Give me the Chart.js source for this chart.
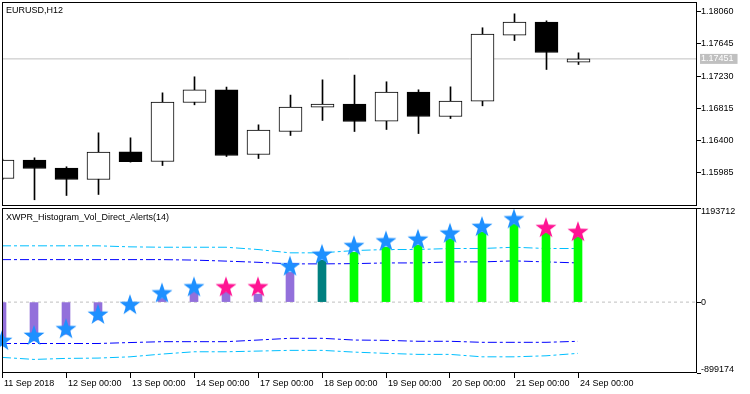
<!DOCTYPE html>
<html><head><meta charset="utf-8">
<script src="https://cdn.jsdelivr.net/npm/chart.js@4/dist/chart.umd.min.js"></script>
<style>
html,body{margin:0;padding:0;background:#fff;}
#wrap{position:relative;width:750px;height:394px;background:#fff;overflow:hidden;}
canvas{position:absolute;left:0;}
#top{top:0}
#bot{top:206px}
</style></head><body>
<div id="wrap"><canvas id="top" width="750" height="206"></canvas><canvas id="bot" width="750" height="188"></canvas></div>
<script>
// ---------- data ----------
const symbolLabel = 'EURUSD,H12';
const indicatorLabel = 'XWPR_Histogram_Vol_Direct_Alerts(14)';

const opens  = [1.15914,1.16151,1.16048,1.15901,1.16257,1.16133,1.16891,1.17054,1.16223,1.16518,1.16832,1.16870,1.16652,1.17024,1.16711,1.16909,1.17757,1.17924,1.17410];
const highs  = [1.16165,1.16180,1.16065,1.16501,1.16437,1.17015,1.17221,1.17089,1.16604,1.16986,1.17182,1.17243,1.17157,1.17054,1.17092,1.17851,1.18030,1.17940,1.17529];
const lows   = [1.15900,1.15641,1.15696,1.15709,1.16125,1.16081,1.16861,1.16197,1.16171,1.16467,1.16660,1.16518,1.16544,1.16492,1.16685,1.16848,1.17687,1.17315,1.17379];
const closes = [1.16151,1.16043,1.15901,1.16253,1.16129,1.16896,1.17054,1.16210,1.16536,1.16832,1.16870,1.16647,1.17024,1.16711,1.16909,1.17770,1.17924,1.17533,1.17451];

const priceTicks = [1.15985,1.16400,1.16815,1.17230,1.17645,1.18060];
const priceMin = 1.1556096, priceMax = 1.1818206;

const timeTickIndex  = [0,2,4,6,8,10,12,14,16,18];
const timeTickLabels = ['11 Sep 2018','12 Sep 00:00','13 Sep 00:00','14 Sep 00:00','17 Sep 00:00','18 Sep 00:00','19 Sep 00:00','20 Sep 00:00','21 Sep 00:00','24 Sep 00:00'];

const histValues     = [-557000,-493000,-408000,-226000,-70000,46000,131000,127000,102000,377000,530000,632000,696000,722000,803000,887000,986000,880000,829000];
const histColorIndex = [0,0,0,0,0,0,0,0,0,0,1,2,2,2,2,2,2,2,2];
const signalValues   = [-481000,-417000,-332000,-149000,-26000,122000,199000,199000,199000,463000,612000,722000,782000,803000,880000,964000,1062000,951000,900000];
const signalColorIndex = [0,0,0,0,0,0,0,1,1,0,0,0,0,0,0,0,0,1,1];
const upperOuter = [714000,714000,714000,714000,701000,696000,696000,696000,667000,625000,625000,654000,667000,667000,680000,680000,696000,680000,680000];
const upperInner = [539000,539000,539000,539000,539000,539000,533000,520000,505000,485000,485000,488000,497000,497000,510000,510000,523000,510000,497000];
const lowerInner = [-525000,-525000,-525000,-525000,-513000,-502000,-502000,-502000,-481000,-459000,-459000,-481000,-485000,-497000,-497000,-510000,-510000,-510000,-497000];
const lowerOuter = [-701000,-727000,-714000,-710000,-694000,-659000,-630000,-630000,-621000,-612000,-612000,-634000,-650000,-663000,-663000,-694000,-694000,-681000,-650000];
const volMin = -899174, volMax = 1193712;

// ---------- styles ----------
const FONT = 'Liberation Sans';
Chart.defaults.font.family = FONT;
Chart.defaults.font.size = 9;
Chart.defaults.color = '#000';
const histPalette = ['#9370DB', '#008080', '#00FF00'];
const signalPalette = ['#1E90FF', '#FF1493'];
const SLOT = 32;
const AREA_W = 695;

function makeStar(color) {
  const c = document.createElement('canvas');
  c.width = 24; c.height = 24;
  const g = c.getContext('2d');
  const R = 11, r = R * 0.4;
  const cx = 12, cy = 12 + R * (1 - Math.cos(Math.PI / 5)) / 2;
  g.beginPath();
  for (let k = 0; k < 10; k++) {
    const a = -Math.PI / 2 + k * Math.PI / 5;
    const rr = k % 2 ? r : R;
    g.lineTo(cx + rr * Math.cos(a), cy + rr * Math.sin(a));
  }
  g.closePath();
  g.fillStyle = color;
  g.fill();
  return c;
}
const starImgs = signalPalette.map(makeStar);

const framePlugin = {
  id: 'frame',
  afterDraw(chart, args, opts) {
    const a = chart.chartArea, ctx = chart.ctx;
    ctx.save();
    ctx.strokeStyle = '#000';
    ctx.lineWidth = 1;
    ctx.strokeRect(Math.round(a.left) + 0.5, Math.round(a.top) + 0.5,
                   Math.round(a.right - a.left) - 1, Math.round(a.bottom - a.top) - 1);
    ctx.fillStyle = '#000';
    ctx.font = '9px "' + FONT + '"';
    ctx.textBaseline = 'alphabetic';
    ctx.textAlign = 'left';
    ctx.fillText(opts.text, opts.x, opts.y);
    ctx.restore();
  }
};

const noPadY = s => { s.width = 53; s.paddingTop = 0; s.paddingBottom = 0; };
const N = closes.length;
const idx = closes.map((_, i) => i);
const lastClose = closes[N - 1];

// ---------- price pane ----------
const topMin = -0.5 / SLOT, topMax = topMin + AREA_W / SLOT;
const isLast = c => c.tick && Math.abs(c.tick.value - lastClose) < 1e-9;
new Chart(document.getElementById('top'), {
  type: 'bar',
  data: {
    datasets: [
      {
        type: 'bar', order: 1, grouped: false,
        data: idx.map(i => ({x: i, y: [opens[i], closes[i]]})),
        backgroundColor: idx.map(i => closes[i] >= opens[i] ? '#FFFFFF' : '#000000'),
        borderColor: '#000', borderWidth: 1, borderSkipped: false, barThickness: 23
      },
      {
        type: 'bar', order: 2, grouped: false,
        data: idx.map(i => ({x: i, y: [lows[i], highs[i]]})),
        backgroundColor: '#000', borderWidth: 0, barThickness: 1
      },
      {
        type: 'line', order: 3,
        data: [{x: topMin, y: lastClose}, {x: topMax, y: lastClose}],
        borderColor: '#C0C0C0', borderWidth: 1, pointRadius: 0
      }
    ]
  },
  options: {
    responsive: false, animation: false, events: [],
    layout: {autoPadding: false, padding: {left: 2, top: 2, right: 0, bottom: 0}},
    plugins: {legend: {display: false}, tooltip: {enabled: false},
      frame: {text: symbolLabel, x: 6, y: 13}},
    scales: {
      x: {type: 'linear', display: false, offset: false, min: topMin, max: topMax,
          grid: {offset: false}},
      y: {
        type: 'linear', position: 'right', min: priceMin, max: priceMax,
        afterFit: noPadY,
        afterBuildTicks: s => { s.ticks = [...priceTicks, lastClose].sort((a, b) => a - b).map(v => ({value: v})); },
        border: {display: false},
        grid: {drawOnChartArea: false, drawTicks: true, tickLength: 4,
               tickColor: c => isLast(c) ? 'rgba(0,0,0,0)' : '#000'},
        ticks: {
          autoSkip: false, padding: 0,
          font: {family: FONT, size: 9, lineHeight: '10px'},
          color: c => isLast(c) ? '#FFFFFF' : '#000',
          showLabelBackdrop: c => isLast(c),
          backdropColor: '#C0C0C0',
          backdropPadding: {top: 0, bottom: 0, left: 1, right: 4},
          callback: v => Number(v).toFixed(5)
        }
      }
    }
  },
  plugins: [framePlugin]
});

// ---------- indicator pane ----------
const botMin = 0, botMax = AREA_W / SLOT;
const levelLine = (arr, color, order) => ({
  type: 'line', order,
  data: idx.map(i => ({x: i, y: arr[i]})),
  borderColor: color, borderWidth: 1, borderDash: [9, 3, 3, 3],
  pointRadius: 0, tension: 0
});
new Chart(document.getElementById('bot'), {
  type: 'bar',
  data: {
    datasets: [
      {
        type: 'line', order: 0, showLine: false, clip: false,
        data: idx.map(i => ({x: i, y: signalValues[i]})),
        pointStyle: c => starImgs[signalColorIndex[c.dataIndex]],
        pointRadius: 5
      },
      {
        type: 'bar', order: 1,
        data: idx.map(i => ({x: i, y: histValues[i]})),
        backgroundColor: c => histPalette[histColorIndex[c.dataIndex]],
        borderWidth: 0, barThickness: 8
      },
      levelLine(upperOuter, '#00BFFF', 2),
      levelLine(upperInner, '#0000FF', 2),
      levelLine(lowerInner, '#0000FF', 2),
      levelLine(lowerOuter, '#00BFFF', 2),
      {
        type: 'line', order: 3,
        data: [{x: botMin, y: 0}, {x: botMax, y: 0}],
        borderColor: '#C0C0C0', borderWidth: 1, borderDash: [3, 3], pointRadius: 0
      }
    ]
  },
  options: {
    responsive: false, animation: false, events: [],
    layout: {autoPadding: false, padding: {left: 2, top: 2, right: 0, bottom: 0}},
    plugins: {legend: {display: false}, tooltip: {enabled: false},
      frame: {text: indicatorLabel, x: 6, y: 14}},
    scales: {
      x: {
        type: 'linear', offset: false, min: botMin, max: botMax,
        afterFit: s => { s.height = 21; s.paddingLeft = 0; s.paddingRight = 0; },
        afterBuildTicks: s => { s.ticks = timeTickIndex.map(v => ({value: v})); },
        border: {display: false},
        grid: {offset: false, drawOnChartArea: false, drawTicks: true, tickLength: 5, tickColor: '#000'},
        ticks: {
          autoSkip: false, maxRotation: 0, minRotation: 0, align: 'start',
          labelOffset: 2, padding: 0, font: {family: FONT, size: 9},
          callback: v => timeTickLabels[timeTickIndex.indexOf(v)]
        }
      },
      y: {
        type: 'linear', position: 'right', min: volMin, max: volMax,
        afterFit: noPadY,
        afterBuildTicks: s => { s.ticks = [volMin, 0, volMax].map(v => ({value: v})); },
        border: {display: false},
        grid: {drawOnChartArea: false, drawTicks: true, tickLength: 4, tickColor: '#000'},
        ticks: {
          autoSkip: false, padding: 0,
          font: {family: FONT, size: 9, lineHeight: '7px'},
          callback: v => v === volMax ? ['', String(v)] : (v === volMin ? [String(v), ''] : String(v))
        }
      }
    }
  },
  plugins: [framePlugin]
});
</script>
</body></html>
